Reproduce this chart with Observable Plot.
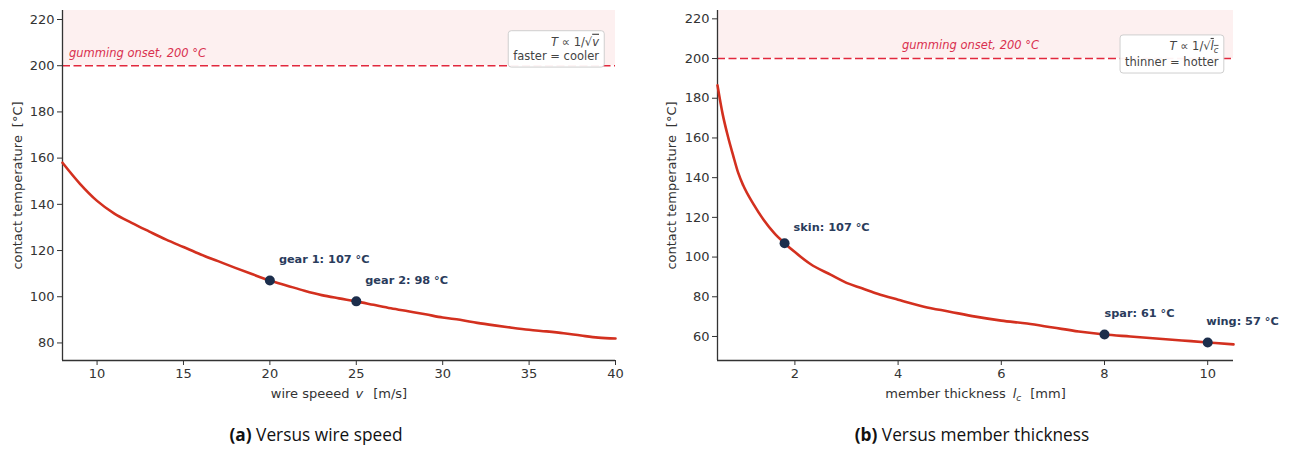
<!DOCTYPE html>
<html><head><meta charset="utf-8">
<script src="https://cdn.jsdelivr.net/npm/d3@7"></script>
<script src="https://cdn.jsdelivr.net/npm/@observablehq/plot@0.6"></script>
<style>
html,body{margin:0;padding:0;background:#fff}
#root{position:relative;width:1289px;height:452px;overflow:hidden;background:#fff}
.panel{position:absolute;top:0}
.cap{position:absolute;top:425px;font-family:"Open Sans","DejaVu Sans",sans-serif;font-size:17.3px;line-height:20px;color:#111;white-space:nowrap;transform:translateX(-50%)}
.cap b{font-weight:700}
</style></head><body>
<div id="root">
  <div id="pa" class="panel" style="left:0"></div>
  <div id="pb" class="panel" style="left:645px"></div>
  <div class="cap" style="left:316px"><b>(a)</b> Versus wire speed</div>
  <div class="cap" style="left:972px"><b>(b)</b> Versus member thickness</div>
</div>
<script>
// ---------- data ----------
const speedV = [8,9,10,11,12,13,14,15,16,17,18,19,20,21,22,23,24,25,26,27,28,29,30,31,32,33,34,35,36,37,38,39,40];
const speedT = [158,149,141.5,136,132,128.3,124.7,121.5,118.3,115.4,112.5,109.7,107,104.8,102.6,100.7,99.3,98,96.5,95,93.7,92.4,91,90,88.7,87.6,86.6,85.7,85,84.2,83.2,82.3,81.9];
const gearNames = ["gear 1","gear 2"];
const gearV = [20,25];
const gearT = [107,98];

const thickL = [0.5,0.6,0.7,0.8,0.9,1.0,1.2,1.4,1.6,1.8,2.0,2.3,2.7,3.0,3.3,3.6,4.0,4.5,5.0,5.5,6.0,6.5,7.0,7.5,8.0,8.5,9.0,9.5,10.0,10.5];
const thickT = [186.5,172,161,151.5,142.5,136,126.5,118.5,112,107,102.5,96.5,91,87,84.3,81.5,78.5,75,72.5,70,68,66.5,64.5,62.5,61,60,59,58,57,56];
const memberNames = ["skin","spar","wing"];
const memberL = [1.8,8,10];
const memberT = [107,61,57];

const gummingT = 200;
const gummingText = "gumming onset, 200 °C";

const speedDomain = [8,40];
const speedTicks = [10,15,20,25,30,35,40];
const tempDomainA = [72.4,223.9];
const tempTicksA = [80,100,120,140,160,180,200,220];

const thickDomain = [0.5,10.5];
const thickTicks = [2,4,6,8,10];
const tempDomainB = [47.9,224.2];
const tempTicksB = [60,80,100,120,140,160,180,200,220];

const yLabelText = "contact temperature [°C]";
const boxA = ["T ∝ 1/√v","faster = cooler"];
const boxB = ["T ∝ 1/√lc","thinner = hotter"];

// ---------- styling ----------
const C = {curve:"#d3301f", pt:"#1c2e4c", note:"#2a3c5c", gum:"#e2283d", gumText:"#d9304f", band:"#fdf0f0", axis:"#333", box:"#444"};
const FONT = "DejaVu Sans";
const BOXFS = 11.5;

function makePanel(o) {
  const pts = o.px.map((x,i)=>({x, y:o.py[i], label:`${o.names[i]}: ${o.py[i]} °C`, dx:o.offsets[i][0], dy:o.offsets[i][1]}));
  return Plot.plot({
    width:o.width, height:400,
    marginLeft:o.ml, marginRight:o.mr, marginTop:10, marginBottom:40,
    style:{fontFamily:FONT, fontSize:"13px", color:C.axis, background:"transparent", overflow:"visible"},
    x:{domain:o.xDomain, ticks:o.xTicks, label:null, tickSize:5, tickPadding:3},
    y:{domain:o.yDomain, ticks:o.yTicks, label:null, tickSize:5, tickPadding:3},
    marks:[
      Plot.rect([0], {y1:[gummingT], y2:[o.yDomain[1]], fill:C.band}),
      Plot.ruleY([gummingT], {stroke:C.gum, strokeWidth:1.5, strokeDasharray:"8,3.5"}),
      Plot.text([gummingText], {y:[gummingT], text:d=>d, frameAnchor:o.gumAnchor, textAnchor:o.gumTA, dx:o.gumDx, dy:o.gumDy, fontStyle:"italic", fontSize:11.5, fill:C.gumText}),
      Plot.ruleX([o.xDomain[0]], {stroke:C.axis, strokeWidth:1.3}),
      Plot.ruleY([o.yDomain[0]], {stroke:C.axis, strokeWidth:1.3}),
      Plot.line(o.cx, {x:o.cx, y:o.cy, stroke:C.curve, strokeWidth:2.6, curve:"monotone-x"}),
      Plot.dot(pts, {x:"x", y:"y", r:5, fill:C.pt}),
      ...pts.map(p => Plot.text([p], {x:"x", y:"y", text:"label", dx:p.dx, dy:p.dy, textAnchor:"start", fontWeight:"bold", fontSize:11.3, fill:C.note})),
      Plot.text([o.box.join("\n")], {text:d=>d, frameAnchor:"top-right", textAnchor:"end", lineAnchor:"top", dx:o.boxDx, dy:o.boxDy, lineHeight:o.boxLH, fontSize:BOXFS, fill:C.box}),
      Plot.text([yLabelText], {text:d=>d, frameAnchor:"left", textAnchor:"middle", lineAnchor:"middle", rotate:-90, dx:o.ylDx, fontSize:13, fill:C.axis}),
      Plot.text([o.xLabel], {text:d=>d, frameAnchor:"bottom", textAnchor:"middle", lineAnchor:"middle", dy:33, fontSize:13, fill:C.axis})
    ]
  });
}

const NS = "http://www.w3.org/2000/svg";
function tspan(parent, t, attrs={}, style={}) {
  const s = document.createElementNS(NS, "tspan");
  s.textContent = t;
  for (const k in attrs) s.setAttribute(k, attrs[k]);
  for (const k in style) s.style[k] = style[k];
  parent.appendChild(s);
  return s;
}
function clear(el){ while (el.firstChild) el.removeChild(el.firstChild); }
function findText(svg, pred){ return [...svg.querySelectorAll("text")].find(pred); }

function finish(svg, kind, xLabel, box, lh) {
  const yl = findText(svg, t => t.textContent === yLabelText);
  if (yl) { clear(yl); tspan(yl, "contact temperature"); tspan(yl, "[°C]", {dx:8}); }
  const xl = findText(svg, t => t.textContent === xLabel);
  if (xl) {
    clear(xl);
    if (kind === "a") {
      tspan(xl, "wire speeed"); tspan(xl, "v", {dx:6}, {fontStyle:"italic"}); tspan(xl, "[m/s]", {dx:10});
    } else {
      tspan(xl, "member thickness"); tspan(xl, "l", {dx:7}, {fontStyle:"italic"});
      tspan(xl, "c", {dy:3, "font-size":9}, {fontStyle:"italic"}); tspan(xl, "[mm]", {dx:9, dy:-3});
    }
  }
  const bt = findText(svg, t => t.firstElementChild && t.firstElementChild.textContent === box[0]);
  if (!bt) return;
  const lines = bt.querySelectorAll(":scope > tspan");
  const first = lines[0];
  clear(first);
  tspan(first, "T", {}, {fontStyle:"italic"});
  tspan(first, " ∝ 1/√");
  if (kind === "a") {
    tspan(first, "v", {}, {fontStyle:"italic", textDecoration:"overline"});
  } else {
    tspan(first, "l", {}, {fontStyle:"italic", textDecoration:"overline"});
    tspan(first, "c", {dy:3, "font-size":8.5}, {fontStyle:"italic", textDecoration:"overline"});
    if (lines[1]) lines[1].setAttribute("dy", (lh * BOXFS - 3) + "px");
  }
  const bb = bt.getBBox();
  const px = 5, py = 4;
  const r = document.createElementNS(NS, "rect");
  r.setAttribute("x", bb.x - px); r.setAttribute("y", bb.y - py);
  r.setAttribute("width", bb.width + 2*px); r.setAttribute("height", bb.height + 2*py);
  r.setAttribute("rx", 3); r.setAttribute("fill", "#fff"); r.setAttribute("fill-opacity", 0.95);
  r.setAttribute("stroke", "#cfcfcf"); r.setAttribute("stroke-width", 1);
  const tr = bt.getAttribute("transform"); if (tr) r.setAttribute("transform", tr);
  bt.parentNode.insertBefore(r, bt);
}

const cfgA = {
  width:645, ml:62, mr:30,
  xDomain:speedDomain, xTicks:speedTicks, yDomain:tempDomainA, yTicks:tempTicksA,
  cx:speedV, cy:speedT, px:gearV, py:gearT, names:gearNames,
  offsets:[[9,-21],[9,-21]],
  gumAnchor:"left", gumTA:"start", gumDx:6.5, gumDy:-12.5,
  box:boxA, boxDx:-16.5, boxDy:25, boxLH:1.25,
  ylDx:-44.5, xLabel:"wire speeed v [m/s]"
};
const svgA = makePanel(cfgA);
document.getElementById("pa").appendChild(svgA);
try { finish(svgA, "a", cfgA.xLabel, boxA, cfgA.boxLH); } catch (e) { console.error(e); }

const cfgB = {
  width:644, ml:72, mr:56,
  xDomain:thickDomain, xTicks:thickTicks, yDomain:tempDomainB, yTicks:tempTicksB,
  cx:thickL, cy:thickT, px:memberL, py:memberT, names:memberNames,
  offsets:[[9,-16],[0,-21],[-1.5,-21]],
  gumAnchor:"middle", gumTA:"middle", gumDx:-5, gumDy:-13,
  box:boxB, boxDx:-15, boxDy:28, boxLH:1.4,
  ylDx:-45.4, xLabel:"member thickness lc [mm]"
};
const svgB = makePanel(cfgB);
document.getElementById("pb").appendChild(svgB);
try { finish(svgB, "b", cfgB.xLabel, boxB, cfgB.boxLH); } catch (e) { console.error(e); }
</script>
</body></html>
